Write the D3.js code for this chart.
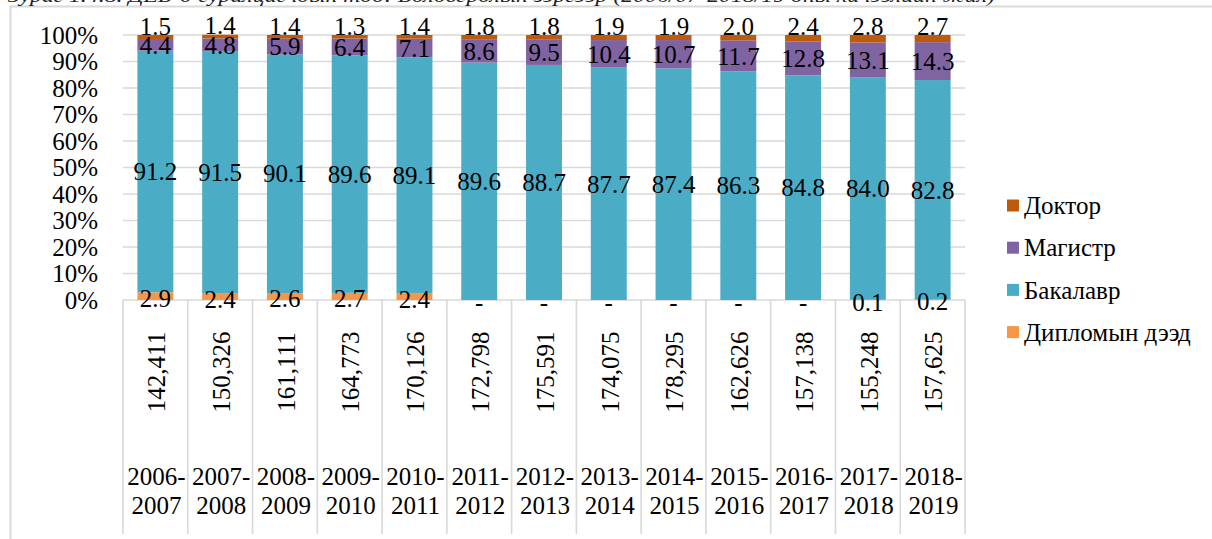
<!DOCTYPE html>
<html><head><meta charset="utf-8">
<script src="https://cdn.jsdelivr.net/npm/d3@7"></script>
<style>
body{margin:0;background:#fff;overflow:hidden}
text{font-family:'Liberation Serif','Tinos','DejaVu Serif','Times New Roman',serif}
</style></head>
<body><svg id="c" width="1212" height="539" font-family="Liberation Serif, DejaVu Serif, serif"></svg>
<script>
const caption = "Зураг 1.4.8. ДЕБ-д суралцагчдын тоо: Боловсролын зэргээр (2006/07-2018/19 оны хичээлийн жил)";
const years = ["2006-2007","2007-2008","2008-2009","2009-2010","2010-2011","2011-2012","2012-2013","2013-2014","2014-2015","2015-2016","2016-2017","2017-2018","2018-2019"];
const totals = ["142,411","150,326","161,111","164,773","170,126","172,798","175,591","174,075","178,295","162,626","157,138","155,248","157,625"];
const seriesNames = ["Дипломын дээд","Бакалавр","Магистр","Доктор"];
const diploma = [2.9,2.4,2.6,2.7,2.4,0,0,0,0,0,0,0.1,0.2];
const bachelor = [91.2,91.5,90.1,89.6,89.1,89.6,88.7,87.7,87.4,86.3,84.8,84.0,82.8];
const master = [4.4,4.8,5.9,6.4,7.1,8.6,9.5,10.4,10.7,11.7,12.8,13.1,14.3];
const doctor = [1.5,1.4,1.4,1.3,1.4,1.8,1.8,1.9,1.9,2.0,2.4,2.8,2.7];
const yTicks = [0,10,20,30,40,50,60,70,80,90,100];
const colors = ["#F79646","#4BACC6","#8064A2","#BE5A0C"];

(function(){
const svg = d3.select("#c");
const pl = 123, pr = 965, pt = 35, pb = 300;
const x = d3.scaleBand().domain(years).range([pl, pr]).paddingInner(0.445).paddingOuter(0.2225);
const y = d3.scaleLinear().domain([0,100]).range([pb, pt]);
const grey = "#d9d9d9";

svg.append("path").attr("d", `M10.5,539 V6.5 H1212`).attr("fill","none").attr("stroke",grey).attr("stroke-width",2);
svg.append("text").attr("x",8).attr("y",2).attr("font-style","italic").attr("font-size",19)
  .attr("textLength",987).attr("lengthAdjust","spacingAndGlyphs").attr("fill","#222").text(caption);

svg.append("g").selectAll("line").data(yTicks).join("line")
  .attr("x1",pl).attr("x2",pr).attr("y1",d=>y(d)).attr("y2",d=>y(d))
  .attr("stroke",grey).attr("stroke-width",1.6);

svg.append("g").selectAll("text").data(yTicks).join("text")
  .attr("x",98).attr("y",d=>y(d)).attr("dy","0.35em").attr("text-anchor","end")
  .attr("font-size",25).attr("fill","#000").text(d=>d+"%");

const bounds = years.map(d => x(d) - x.step()*x.paddingInner()/2).concat([pr]);
svg.append("g").selectAll("line").data(bounds).join("line")
  .attr("x1",d=>d).attr("x2",d=>d).attr("y1",pb).attr("y2",534)
  .attr("stroke",grey).attr("stroke-width",1.6);

const table = years.map((yr,i)=>({year:yr, "Дипломын дээд":diploma[i], "Бакалавр":bachelor[i], "Магистр":master[i], "Доктор":doctor[i]}));
const stack = d3.stack().keys(seriesNames)(table);

const g = svg.append("g");
stack.forEach((s,si)=>{
  g.append("g").attr("fill",colors[si]).selectAll("rect").data(s).join("rect")
    .attr("x",d=>x(d.data.year)).attr("width",x.bandwidth())
    .attr("y",d=>y(d[1])).attr("height",d=>Math.max(0,y(d[0])-y(d[1])));
});

stack.forEach((s,si)=>{
  svg.append("g").selectAll("text").data(s).join("text")
    .attr("x",d=>x(d.data.year)+x.bandwidth()/2)
    .attr("y",d=>{
      if(si===3) return y(d[1]) - 9;
      if(si===0) return y((d[0]+d[1])/2) + 2;
      return y((d[0]+d[1])/2);
    })
    .attr("dy","0.35em").attr("text-anchor","middle").attr("font-size",25).attr("fill","#000")
    .text(d=>{const val=d.data[seriesNames[si]]; return val===0?"-":val.toFixed(1);});
});

svg.append("g").selectAll("text").data(years).join("text")
  .attr("transform",(d,i)=>`translate(${x(d)+x.bandwidth()/2+1},372) rotate(-90)`)
  .attr("dy","0.35em").attr("text-anchor","middle").attr("font-size",25).attr("fill","#000")
  .text((d,i)=>totals[i]);

const yl = svg.append("g").selectAll("text").data(years).join("text")
  .attr("text-anchor","middle").attr("font-size",25).attr("fill","#000");
yl.append("tspan").attr("x",d=>x(d)+x.bandwidth()/2+1).attr("y",485).text(d=>d.split("-")[0]+"-");
yl.append("tspan").attr("x",d=>x(d)+x.bandwidth()/2+1).attr("y",514).text(d=>d.split("-")[1]);

const legendOrder = ["Доктор","Магистр","Бакалавр","Дипломын дээд"];
const lg = svg.append("g").selectAll("g").data(legendOrder).join("g")
  .attr("transform",(d,i)=>`translate(1007,${205.5+i*42.2})`);
lg.append("rect").attr("x",0).attr("y",-6).attr("width",12).attr("height",12)
  .attr("fill",d=>colors[seriesNames.indexOf(d)]);
lg.append("text").attr("x",17).attr("y",0).attr("dy","0.35em").attr("font-size",25).attr("fill","#000").text(d=>d);
})();
</script></body></html>
